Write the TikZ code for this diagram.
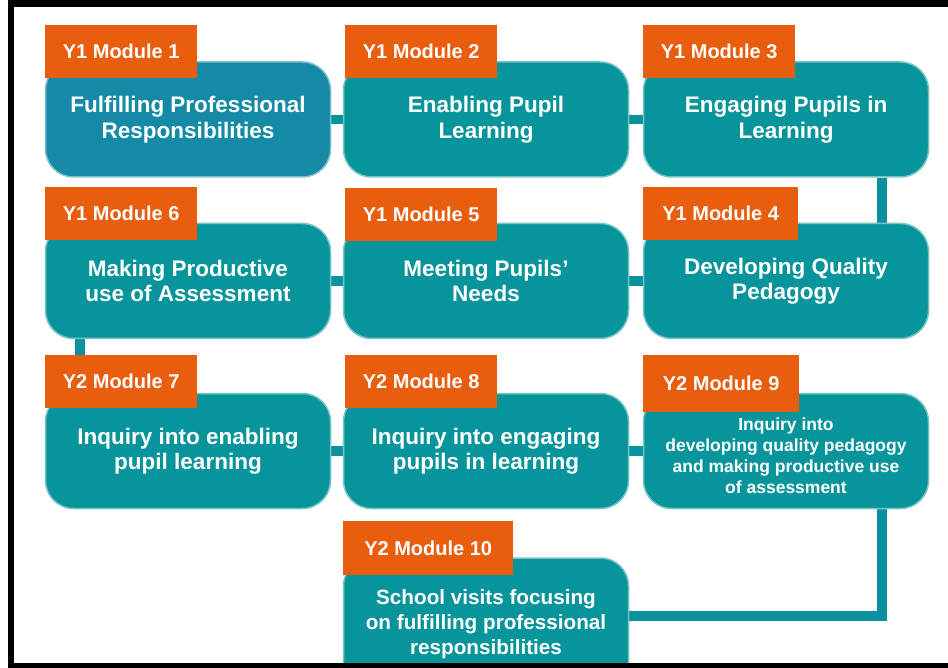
\documentclass[tikz,border=0pt]{standalone}
\usepackage{fontspec}
\setmainfont{Liberation Sans}
\definecolor{tealbox}{HTML}{08949B}
\definecolor{bluebox}{HTML}{148AA6}
\definecolor{orng}{HTML}{E95D0F}
\definecolor{conncol}{HTML}{0A91A0}
\pgfdeclarelayer{paper}
\pgfdeclarelayer{links}
\pgfsetlayers{paper,links,main}
\begin{document}
\begin{tikzpicture}[x=1pt,y=-1pt,
  box/.style={rounded corners=28pt, fill=tealbox, draw=tealbox!55!white, line width=1.5pt,
    minimum width=285pt, minimum height=115pt, text=white, align=center, inner sep=0pt,
    font=\bfseries\fontsize{22.5}{25.5}\selectfont},
  boxtext/.style={text=white, align=center, inner sep=0pt},
  lab/.style={fill=orng, minimum width=152pt, minimum height=53pt, text=white, inner sep=0pt,
    anchor=north west, font=\bfseries\fontsize{20}{24}\selectfont},
  conn/.style={draw=conncol, line width=9.5pt}]
\useasboundingbox (0,0) rectangle (948,668);
\clip (0,0) rectangle (948,668);
\begin{pgfonlayer}{paper}
\fill[white] (0,0) rectangle (948,668);
\end{pgfonlayer}

% boxes
\node[box, fill=bluebox, draw=bluebox!55!white] (b1) at (188,119.5) {Fulfilling Professional\\Responsibilities};
\node[box] (b2) at (486,119.5) {Enabling Pupil\\Learning};
\node[box] (b3) at (786,119.5) {Engaging Pupils in\\Learning};
\node[box] (b6) at (188,281) {Making Productive\\use of Assessment};
\node[box] (b5) at (486,281) {Meeting Pupils’\\Needs};
\node[box] (b4) at (786,281) {Developing Quality\\Pedagogy};
\node[box] (b7) at (188,451) {Inquiry into enabling\\pupil learning};
\node[box] (b8) at (486,451) {Inquiry into engaging\\pupils in learning};
\node[box] (b9) at (786,451) {};
\node[boxtext, font=\bfseries\fontsize{17.5}{21}\selectfont] (t9) at ([yshift=-4.5pt]b9.center) {Inquiry into\\developing quality pedagogy\\and making productive use\\of assessment};
\node[box, minimum height=132pt, font=\bfseries\fontsize{20.7}{25}\selectfont] (b10) at (486,624) {School visits focusing\\on fulfilling professional\\responsibilities};

% connectors (behind boxes)
\coordinate (vr) at (882,0);
\coordinate (vl) at (80,0);
\begin{pgfonlayer}{links}
\draw[conn] (b1) -- (b2);
\draw[conn] (b2) -- (b3);
\draw[conn] (b3.south -| vr) -- (b4.north -| vr);
\draw[conn] (b4) -- (b5);
\draw[conn] (b5) -- (b6);
\draw[conn] (b6.south -| vl) -- (b7.north -| vl);
\draw[conn] (b7) -- (b8);
\draw[conn] (b8) -- (b9);
\coordinate (c10) at (882,616);
\draw[conn] (b9.south -| vr) -- (c10) -- (b10.east |- c10);
\end{pgfonlayer}

% labels
\node[lab] (l1) at (45,25) {Y1 Module 1};
\node[lab] (l2) at (345,25) {Y1 Module 2};
\node[lab] (l3) at (643,25) {Y1 Module 3};
\node[lab] (l6) at (45,187) {Y1 Module 6};
\node[lab] (l5) at (345,188) {Y1 Module 5};
\node[lab, minimum width=155pt] (l4) at (643,187) {Y1 Module 4};
\node[lab] (l7) at (45,355) {Y2 Module 7};
\node[lab] (l8) at (345,355) {Y2 Module 8};
\node[lab, minimum width=156pt, minimum height=57pt] (l9) at (643,355) {Y2 Module 9};
\node[lab, minimum width=170pt, minimum height=54pt] (l10) at (343,521) {Y2 Module 10};

% frame
\fill[black] (8,0) rectangle (948,7);
\fill[black] (8,0) rectangle (14,668);
\fill[black] (8,663) rectangle (948,668);
\end{tikzpicture}
\end{document}
